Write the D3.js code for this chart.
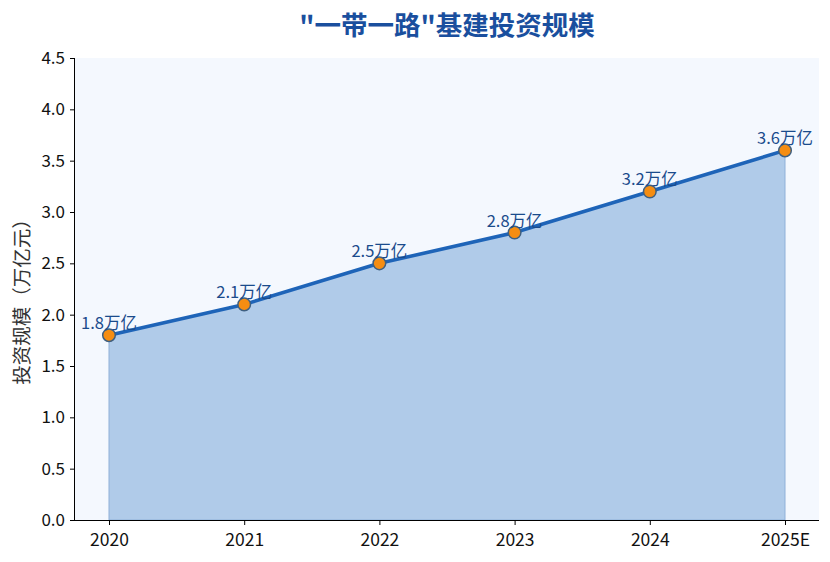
<!DOCTYPE html>
<html><head><meta charset="utf-8">
<script src="https://cdn.jsdelivr.net/npm/d3@7"></script>
<style>body{margin:0;background:#fff;} svg{display:block;font-family:"Noto Sans CJK SC","Noto Sans",sans-serif;}</style>
</head><body>
<svg id="c" width="830" height="562"></svg>
<script>
const years = ["2020","2021","2022","2023","2024","2025E"];
const values = [1.8, 2.1, 2.5, 2.8, 3.2, 3.6];
const labels = ["1.8万亿","2.1万亿","2.5万亿","2.8万亿","3.2万亿","3.6万亿"];
const yTicks = [0,0.5,1.0,1.5,2.0,2.5,3.0,3.5,4.0,4.5];

const svg = d3.select("#c");
const L = 75, R = 819, T = 58, B = 520;
const x = d3.scalePoint().domain(years).range([L + 34, R - 34]);
const y = d3.scaleLinear().domain([0, 4.5]).range([B, T]);

svg.append("rect").attr("x", L).attr("y", T).attr("width", R - L).attr("height", B - T).attr("fill", "#f4f8fe");

const data = years.map((d, i) => ({ year: d, v: values[i], label: labels[i] }));

svg.append("path").datum(data)
  .attr("d", d3.area().x(d => x(d.year)).y0(y(0)).y1(d => y(d.v)))
  .attr("fill", "#b0cbe9").attr("stroke", "#8fb0d8").attr("stroke-width", 1);

svg.append("path").datum(data)
  .attr("d", d3.line().x(d => x(d.year)).y(d => y(d.v)))
  .attr("fill", "none").attr("stroke", "#1e64b8").attr("stroke-width", 3.6).attr("stroke-linejoin", "round");

svg.selectAll("circle.m").data(data).join("circle")
  .attr("cx", d => x(d.year)).attr("cy", d => y(d.v)).attr("r", 6.3)
  .attr("fill", "#f58d12").attr("stroke", "#3e5f80").attr("stroke-width", 1.5);

svg.selectAll("text.lbl").data(data).join("text")
  .attr("x", d => x(d.year)).attr("y", d => y(d.v) - 6)
  .attr("text-anchor", "middle").attr("font-size", 16.5).attr("fill", "#1a4b8c")
  .text(d => d.label);

const xa = svg.append("g").attr("transform", `translate(0,${B})`)
  .call(d3.axisBottom(x).tickSize(5).tickPadding(9));
xa.select(".domain").attr("d", `M${L},0.5H${R}`).attr("stroke", "#000");
xa.selectAll("text").attr("font-size", 17.5).attr("fill", "#111").attr("font-family", "'Noto Sans CJK SC',sans-serif");

const ya = svg.append("g").attr("transform", `translate(${L},0)`)
  .call(d3.axisLeft(y).tickValues(yTicks).tickFormat(d3.format(".1f")).tickSize(5).tickPadding(5));
ya.select(".domain").attr("d", `M-0.5,${T}V${B}`).attr("stroke", "#000");
ya.selectAll("text").attr("font-size", 17).attr("fill", "#111").attr("font-family", "'Noto Sans CJK SC',sans-serif");

svg.append("text").attr("transform", `translate(29,${(T + B) / 2 + 8}) rotate(-90)`)
  .attr("text-anchor", "middle").attr("font-size", 19.5).attr("fill", "#333")
  .text("投资规模（万亿元）");

svg.append("text").attr("x", (L + R) / 2).attr("y", 35)
  .attr("text-anchor", "middle").attr("font-size", 26.5).attr("font-weight", "bold").attr("fill", "#1a4f9e")
  .text("\"一带一路\"基建投资规模");
</script>
</body></html>
